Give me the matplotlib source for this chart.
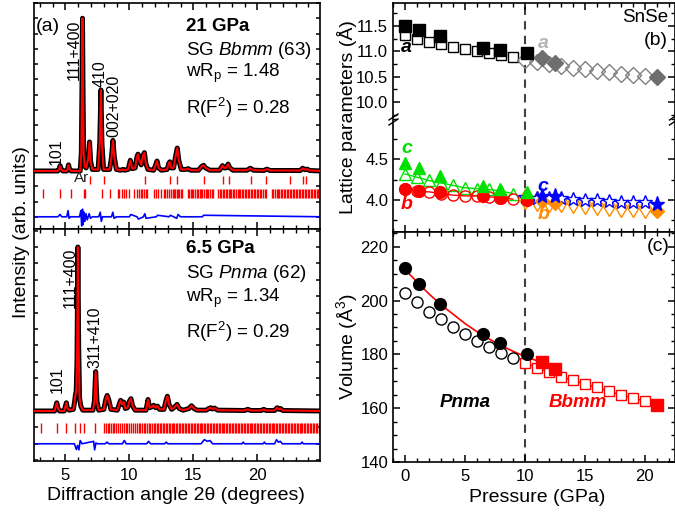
import matplotlib
matplotlib.use("Agg")
import matplotlib.pyplot as plt
from matplotlib.lines import Line2D
from matplotlib.ticker import MultipleLocator

plt.rcParams["font.family"] = ["Liberation Sans", "DejaVu Sans"]
plt.rcParams["mathtext.fontset"] = "custom"
plt.rcParams["mathtext.rm"] = "Liberation Sans"
plt.rcParams["mathtext.it"] = "Liberation Sans:italic"
plt.rcParams["mathtext.bf"] = "Liberation Sans:bold"
plt.rcParams["axes.linewidth"] = 1.2

# ── (a) diffraction patterns: profile vertices ──
TOP_TTH = [2.5, 4.4, 4.5, 4.58, 4.68, 4.8, 5.1, 5.17, 5.24, 5.32, 5.45, 6.15, 6.24, 6.29,
           6.33, 6.37, 6.42, 6.5, 6.62, 6.78, 6.88, 6.97, 7.1, 7.55, 7.68, 7.77, 7.85,
           7.98, 8.45, 8.6, 8.71, 8.82, 8.98, 9.3, 9.5, 9.6, 9.9, 10.07, 10.22, 10.45,
           10.58, 10.67, 10.78, 10.92, 11.05, 11.17, 11.28, 11.45, 11.9, 12.05, 12.16,
           12.28, 12.5, 12.95, 13.08, 13.16, 13.28, 13.45, 13.62, 13.74, 13.86, 14.05,
           14.4, 14.6, 14.8, 15.4, 15.65, 15.8, 15.95, 16.3, 17.05, 17.2, 17.28, 17.4,
           17.55, 17.72, 17.85, 18.1, 19.2, 19.45, 19.7, 20.5, 20.75, 21.0, 23.35, 23.55,
           23.75, 23.9, 24.1, 25.0]
TOP_INT = [0, 0, 1, 3.5, 1, 0, 0, 1.5, 4, 1, 0, 0, 12, 55,
           100, 55, 12, 3, 2, 8, 19, 6, 1, 1, 18, 53, 18,
           1, 1, 9, 20, 9, 1, 0.5, 1, 0.5, 1, 7, 1.5, 2,
           9, 11, 7, 4, 10, 12, 5, 1, 0.5, 4, 6.5,
           2, 0.5, 1, 5, 6, 2, 2, 10, 15, 7, 1,
           1, 1.5, 0.5, 0.5, 3, 3.7, 2, 0.5, 0.5, 2.5, 3.5, 2,
           2, 4.5, 2, 0.5, 0.5, 1.8, 0.5, 0.3, 1.2, 0.3, 0.3, 1.8,
           0.8, 1.2, 0.3, 0]

BOT_TTH = [2.5, 4.15, 4.25, 4.32, 4.42, 4.55, 4.9, 5.0, 5.07, 5.15, 5.3, 5.62, 5.72, 5.78,
           5.84, 5.9, 5.97, 6.03, 6.1, 6.2, 6.35, 7.15, 7.26, 7.36, 7.46, 7.6, 8.0, 8.15,
           8.26, 8.38, 8.55, 9.05, 9.2, 9.31, 9.42, 9.55, 9.68, 9.85, 10.0, 10.12, 10.25,
           10.45, 11.3, 11.45, 11.58, 11.75, 11.9, 12.05, 12.2, 12.35, 12.7, 12.85, 12.97,
           13.1, 13.3, 13.55, 13.72, 13.9, 14.2, 14.65, 14.85, 15.05, 15.3, 16.0, 16.2,
           16.37, 16.5, 16.65, 16.9, 19.0, 19.25, 19.5, 20.3, 20.5, 20.7, 21.35, 21.55,
           21.7, 21.82, 22.0, 25.0]
BOT_INT = [0, 0, 3, 5, 1.5, 0, 0, 3, 5, 1.5, 0.5, 1, 6, 10,
           12, 30, 100, 40, 8, 3, 0.5, 0.5, 6, 24, 6, 0.5, 1, 7,
           9.5, 7, 1, 0.5, 4, 6.5, 4, 5.5, 1.5, 2, 6, 7.5, 3,
           0.5, 0.5, 7, 2, 2.5, 3.5, 2, 3, 1, 1, 6, 9,
           4, 1, 2.5, 4, 1.5, 0.5, 1.5, 3.2, 1.5, 0.5, 0.5, 1.5,
           2, 1.2, 1.8, 0.5, 0.3, 1, 0.3, 0.3, 1, 0.3, 0.3, 2,
           1, 1.5, 0.3, 0]

TOP_DIFF_TTH = [2.5, 4.4, 4.58, 4.7, 5.1, 5.2, 5.28, 5.4, 6.1, 6.2, 6.27, 6.33, 6.38, 6.45,
                6.52, 6.6, 6.7, 6.85, 6.95, 7.1, 7.6, 7.72, 7.8, 7.9, 8.6, 8.7, 8.8, 9.0,
                10.0, 10.1, 10.6, 10.7, 11.1, 11.2, 11.3, 12.1, 12.2, 13.1, 13.2, 13.7,
                13.8, 14.0, 15.7, 15.8, 25.0]
TOP_DIFF = [0, 0, 1.5, 0, 0, 4, -1, 0, 0, 4, -6, 5, -5, 3,
            -3, 2, -2, 2, -1, 0, 0, 3, -3, 0, 0, 3, -1, 0,
            0, 1.5, 0, -1.5, 0, 2, -1, 0, 1, 0, 1, -1,
            1.5, 0, 0, 1, 0]

BOT_DIFF_TTH = [2.5, 5.7, 5.85, 5.95, 6.05, 6.15, 6.3, 7.2, 7.28, 7.38, 7.5, 8.1, 8.25, 8.4,
                9.45, 9.6, 9.75, 11.35, 11.5, 11.65, 12.75, 12.88, 13.0, 15.6, 15.85, 16.1,
                16.3, 16.5, 18.8, 18.9, 19.0, 20.45, 20.55, 20.65, 21.35, 21.5, 21.65, 21.8,
                21.95, 23.4, 23.5, 23.6, 25.0]
BOT_DIFF = [0, 0, -3.5, -1, -3.7, 2, 0, 1.5, -3.7, 0.5, 0, 0, 1, 0,
            0, 2, 0, 0, 1.5, 0, 0, 1, 0, 0, 2.5, 1.5,
            2, 0, 0, 1, 0, 0, 1, 0, 0, 2.5, 1, 1.5,
            0, 0, 1, 0, 0]

AR_TICKS = [6.88, 7.98, 11.2, 13.2, 13.75, 15.84, 17.33, 17.76, 19.5, 20.7, 22.55, 23.57, 23.83]
BBMM_TICKS = [3.25, 4.58, 5.43, 6.41, 6.52, 7.82, 8.51, 9.08, 9.2, 9.42, 9.55, 9.7, 9.95,
              10.34, 10.6, 10.73, 10.88, 11.02, 11.15, 11.28, 11.4, 11.9, 12.04, 12.2, 12.48,
              12.68, 12.8, 12.95, 13.1, 13.22, 13.37, 13.5, 13.6, 13.7, 13.8, 13.9, 14.0,
              14.12, 14.55, 14.65, 14.78, 14.9, 15.0, 15.12, 15.25, 15.35, 15.48, 15.6, 15.7,
              15.82, 15.95, 16.05, 16.18, 16.3, 16.42, 16.52, 16.95, 17.05, 17.18, 17.3, 17.4,
              17.52, 17.62, 17.75, 17.85, 17.98, 18.1, 18.2, 18.32, 18.45, 18.55, 18.68, 18.8,
              18.9, 19.02, 19.15, 19.25, 19.38, 19.5, 19.6, 19.72, 19.85, 19.95, 20.08, 20.2,
              20.32, 20.45, 20.58, 20.7, 21.15, 21.25, 21.38, 21.5, 21.6, 21.72, 21.85, 21.95,
              22.08, 22.2, 22.3, 22.42, 22.55, 22.65, 22.78, 22.9, 23.0, 23.12, 23.25, 23.35,
              23.48, 23.6, 23.7, 23.82, 23.95, 24.05, 24.18, 24.3, 24.4, 24.52, 24.65, 24.75,
              24.88, 25.0]
PNMA_TICKS = [3.1, 4.32, 5.05, 5.76, 6.1, 6.47, 7.33, 8.04, 8.15, 8.3, 8.42, 8.55, 8.7, 8.82,
              8.95, 9.1, 9.3, 9.45, 9.55, 9.7, 9.82, 9.95, 10.1, 10.3, 10.45, 10.6, 10.72,
              10.85, 11.0, 11.12, 11.25, 11.38, 11.5, 11.62, 11.75, 11.9, 12.0, 12.12, 12.25,
              12.38, 12.5, 12.6, 12.72, 12.83, 12.95, 13.06, 13.18, 13.3, 13.41, 13.52, 13.64,
              13.75, 13.87, 13.98, 14.1, 14.21, 14.33, 14.44, 14.56, 14.67, 14.79, 14.9, 15.02,
              15.13, 15.25, 15.36, 15.48, 15.59, 15.71, 15.82, 15.94, 16.05, 16.17, 16.28, 16.4,
              16.51, 16.63, 16.74, 16.86, 16.97, 17.09, 17.2, 17.32, 17.43, 17.55, 17.66, 17.78,
              17.89, 18.01, 18.12, 18.24, 18.35, 18.47, 18.58, 18.7, 18.81, 18.93, 19.04, 19.16,
              19.27, 19.39, 19.5, 19.62, 19.73, 19.85, 19.96, 20.08, 20.19, 20.31, 20.42, 20.54,
              20.65, 20.77, 20.88, 21.0, 21.11, 21.23, 21.34, 21.46, 21.57, 21.69, 21.8, 21.92,
              22.03, 22.15, 22.26, 22.38, 22.49, 22.61, 22.72, 22.84, 22.95, 23.07, 23.18, 23.3,
              23.41, 23.53, 23.64, 23.76, 23.87, 23.99, 24.1, 24.22, 24.33, 24.45, 24.56, 24.68,
              24.79, 24.91]

# ── (b), (c) lattice parameters and volume vs pressure ──
P_EXP = [0, 1.2, 2.9, 6.5, 7.9, 10.2]
A_EXP = [11.50, 11.42, 11.31, 11.07, 11.03, 10.96]
B_EXP = [4.13, 4.11, 4.10, 4.05, 4.03, 4.00]
C_EXP = [4.45, 4.39, 4.29, 4.17, 4.14, 4.10]
V_EXP = [212.1, 206.3, 198.8, 187.7, 184.3, 180.0]

P_PNMA = [0, 1, 2, 3, 4, 5, 6, 7, 8, 9]
A_PNMA = [11.33, 11.24, 11.19, 11.14, 11.09, 11.05, 11.01, 10.96, 10.93, 10.88]
B_PNMA = [4.13, 4.11, 4.10, 4.08, 4.06, 4.05, 4.05, 4.04, 4.03, 4.01]
C_PNMA = [4.32, 4.28, 4.24, 4.21, 4.18, 4.15, 4.14, 4.13, 4.11, 4.08]
V_PNMA = [202.8, 199.4, 195.9, 193.0, 190.1, 187.4, 184.9, 182.7, 180.6, 178.8]

P_BBMM = [10, 11, 12, 13, 14, 15, 16, 17, 18, 19, 20]
A_BBMM = [10.83, 10.80, 10.75, 10.71, 10.68, 10.65, 10.62, 10.59, 10.56, 10.53, 10.51]
B_BBMM = [4.01, 3.99, 3.98, 3.97, 3.96, 3.95, 3.94, 3.93, 3.92, 3.91, 3.90]
C_BBMM = [4.04, 4.03, 4.03, 4.02, 4.01, 4.00, 4.00, 3.99, 3.98, 3.98, 3.97]
V_BBMM = [176.9, 175.1, 173.5, 171.7, 170.4, 169.0, 167.7, 166.4, 164.9, 163.8, 162.7]

P_BBMM_EXP = [11.4, 12.5, 21.0]
A_BBMM_EXP = [10.86, 10.78, 10.50]
B_BBMM_EXP = [3.99, 3.96, 3.86]
C_BBMM_EXP = [4.05, 4.05, 3.95]
V_BBMM_EXP = [177.2, 174.7, 161.1]

P_FIT = [0, 1, 2, 3, 4, 5, 6, 7, 8, 9, 10, 11.4]
V_FIT = [211.5, 207.0, 202.5, 198.5, 195.0, 191.5, 188.5, 185.8, 183.3, 181.2, 179.3, 177.0]

W, H = 675, 515


def px_axes(fig, left, top, right, bottom):
    return fig.add_axes([left / W, 1 - bottom / H, (right - left) / W, (bottom - top) / H])


def style_ticks(ax):
    ax.tick_params(which="both", direction="in", top=True, right=True, labelsize=12)
    ax.tick_params(which="major", length=5, width=1.1)
    ax.tick_params(which="minor", length=3, width=1.0)


fig = plt.figure(figsize=(W / 100, H / 100), dpi=100)

# ── panel (a) ──
ax_top = px_axes(fig, 33.5, 3, 320, 229)
ax_bot = px_axes(fig, 33.5, 229, 320, 461)

for ax, tth, inten, dtth, diff, doff in [
        (ax_top, TOP_TTH, TOP_INT, TOP_DIFF_TTH, TOP_DIFF, -30),
        (ax_bot, BOT_TTH, BOT_INT, BOT_DIFF_TTH, BOT_DIFF, -20)]:
    ax.plot(tth, inten, "-", color="black", lw=3.6, solid_joinstyle="round", zorder=2)
    ax.plot(tth, inten, "-", color="red", lw=1.5, zorder=3)
    ax.plot(dtth, [d + doff for d in diff], "-", color="#0000ff", lw=1.2)
    ax.set_xlim(2.5, 24.9)
    ax.xaxis.set_major_locator(MultipleLocator(5))
    ax.xaxis.set_minor_locator(MultipleLocator(1))
    ax.yaxis.set_major_locator(MultipleLocator(10))
    style_ticks(ax)
    ax.tick_params(axis="y", which="major", length=3)
    ax.tick_params(labelleft=False)

ax_top.set_ylim(-38, 110)
ax_bot.set_ylim(-30.5, 111)
ax_top.tick_params(labelbottom=False)
ax_bot.tick_params(axis="x", pad=5)

ax_top.vlines(AR_TICKS, -8.5, -3.3, color="red", lw=1.0)
ax_top.vlines(BBMM_TICKS, -17.6, -11.8, color="red", lw=1.0)
ax_bot.vlines(PNMA_TICKS, -13.4, -7.3, color="red", lw=1.0)

ax_top.text(6.23, -4.6, "Ar", fontsize=11, ha="center", va="center", color="#222222")

lab_kw = dict(rotation=90, ha="center", va="bottom", fontsize=11.5)
ax_top.text(4.27, 4, "101", **lab_kw)
ax_top.text(5.68, 59.5, "111+400", **lab_kw)
ax_top.text(7.72, 55, "410", **lab_kw)
ax_top.text(8.75, 22, "002+020", **lab_kw)
ax_bot.text(4.35, 11, "101", **lab_kw)
ax_bot.text(5.37, 63, "111+400", **lab_kw)
ax_bot.text(7.33, 26, "311+410", **lab_kw)

ax_top.text(0.009, 0.894, "(a)", transform=ax_top.transAxes, fontsize=14, va="center")
info_kw = dict(fontsize=13.5, ha="left", va="center")
ax_top.text(0.532, 0.894, "21 GPa", transform=ax_top.transAxes, fontweight="bold", **info_kw)
ax_top.text(0.532, 0.792, r"SG $\it{Bbmm}$ (63)", transform=ax_top.transAxes, **info_kw)
ax_top.text(0.532, 0.69, r"wR$_\mathrm{p}$ = 1.48", transform=ax_top.transAxes, **info_kw)
ax_top.text(0.532, 0.535, r"R(F$^2$) = 0.28", transform=ax_top.transAxes, **info_kw)
ax_bot.text(0.532, 0.918, "6.5 GPa", transform=ax_bot.transAxes, fontweight="bold", **info_kw)
ax_bot.text(0.532, 0.81, r"SG $\it{Pnma}$ (62)", transform=ax_bot.transAxes, **info_kw)
ax_bot.text(0.532, 0.70, r"wR$_\mathrm{p}$ = 1.34", transform=ax_bot.transAxes, **info_kw)
ax_bot.text(0.532, 0.556, r"R(F$^2$) = 0.29", transform=ax_bot.transAxes, **info_kw)

# ── panel (b): broken axis ──
ax_bu = px_axes(fig, 393, 3, 674.5, 117)
ax_bl = px_axes(fig, 393, 117, 674.5, 232)
ax_c = px_axes(fig, 393, 232, 674.5, 462)

for ax in (ax_bu, ax_bl, ax_c):
    ax.set_xlim(-1, 22.5)
    ax.xaxis.set_major_locator(MultipleLocator(5))
    ax.xaxis.set_minor_locator(MultipleLocator(1))
    style_ticks(ax)
    ax.axvline(10, color="#404040", lw=1.5, ls=(0, (4, 3)), zorder=1)

ax_bu.spines["bottom"].set_visible(False)
ax_bl.spines["top"].set_visible(False)
ax_bu.tick_params(axis="x", which="both", bottom=False, labelbottom=False)
ax_bl.tick_params(axis="x", which="both", top=False, labelbottom=False)
ax_bu.set_ylim(9.705, 11.955)
ax_bu.yaxis.set_major_locator(MultipleLocator(0.5))
ax_bu.yaxis.set_minor_locator(MultipleLocator(0.25))
ax_bu.yaxis.set_major_formatter("{x:.1f}")
ax_bl.set_ylim(3.607, 5.02)
ax_bl.yaxis.set_major_locator(MultipleLocator(0.5))
ax_bl.yaxis.set_minor_locator(MultipleLocator(0.25))
ax_bl.yaxis.set_major_formatter("{x:.1f}")
ax_bl.set_yticks([4.0, 4.5])

# a
ax_bu.plot(P_PNMA, A_PNMA, "s", ms=7.5, mec="black", mfc="white", mew=1.0, ls="none")
ax_bu.plot(P_BBMM, A_BBMM, "D", ms=8.5, mec="#808080", mfc="none", mew=1.0, ls="none")
ax_bu.plot(P_EXP, A_EXP, "s", ms=8, color="black")
ax_bu.plot(P_BBMM_EXP, A_BBMM_EXP, "D", ms=8, color="#6e6e6e")
# c
ax_bl.plot(P_PNMA, C_PNMA, "-", color="#00e000", lw=1.0)
ax_bl.plot(P_PNMA, C_PNMA, "^", ms=8.5, mec="#00e000", mfc="none", mew=1.0, ls="none")
# b
ax_bl.plot(P_PNMA, B_PNMA, "-", color="red", lw=1.0)
ax_bl.plot(P_PNMA, B_PNMA, "o", ms=8, mec="red", mfc="none", mew=1.0, ls="none")
ax_bl.plot(P_BBMM, B_BBMM, "-", color="#ff8c00", lw=1.0)
ax_bl.plot(P_BBMM, B_BBMM, "d", ms=10.5, mec="#ff8c00", mfc="white", mew=1.0, ls="none")
ax_bl.plot(P_BBMM, C_BBMM, "-", color="#0000ff", lw=1.0)
ax_bl.plot(P_BBMM, C_BBMM, "*", ms=10.5, mec="#0000ff", mfc="white", mew=1.0, ls="none")
ax_bl.plot(P_EXP, B_EXP, "o", ms=8.5, color="red")
ax_bl.plot(P_EXP, C_EXP, "^", ms=9, color="#00e000")
ax_bl.plot(P_BBMM_EXP, B_BBMM_EXP, "D", ms=7.5, color="#ff8c00")
ax_bl.plot(P_BBMM_EXP, C_BBMM_EXP, "*", ms=11, color="#0000ff")

lbl_kw = dict(fontsize=14, fontweight="bold", fontstyle="italic", ha="center", va="center")
ax_bu.text(0.15, 11.07, "a", color="black", **lbl_kw)
ax_bu.text(11.55, 11.15, "a", color="#b4b4b4", **lbl_kw)
ax_bl.text(0.15, 4.63, "c", color="#00e000", **lbl_kw)
ax_bl.text(0.15, 3.95, "b", color="red", **lbl_kw)
ax_bl.text(11.55, 4.17, "c", color="#0000ff", **lbl_kw)
ax_bl.text(11.6, 3.82, "b", color="#ff8c00", **lbl_kw)
ax_bu.text(0.977, 0.877, "SnSe", transform=ax_bu.transAxes, fontsize=13.5, ha="right", va="center")
ax_bu.text(0.977, 0.675, "(b)", transform=ax_bu.transAxes, fontsize=14, ha="right", va="center")

# break marks
for x0 in (389, 669.5):
    for dy in (0, 5):
        fig.add_artist(Line2D([x0 / W, (x0 + 9) / W],
                              [1 - (120 + dy) / H, 1 - (114 + dy) / H],
                              color="black", lw=1.0, transform=fig.transFigure))

# ── panel (c) ──
ax_c.set_ylim(140, 225.5)
ax_c.yaxis.set_major_locator(MultipleLocator(20))
ax_c.yaxis.set_minor_locator(MultipleLocator(5))
ax_c.tick_params(axis="x", pad=5)
ax_c.plot(P_FIT, V_FIT, "-", color="red", lw=1.2)
ax_c.plot(P_BBMM, V_BBMM, "-", color="red", lw=1.0)
ax_c.plot(P_PNMA, V_PNMA, "o", ms=8, mec="black", mfc="none", mew=1.0, ls="none")
ax_c.plot(P_BBMM, V_BBMM, "s", ms=7.5, mec="red", mfc="white", mew=1.0, ls="none")
ax_c.plot(P_EXP, V_EXP, "o", ms=8.5, color="black")
ax_c.plot(P_BBMM_EXP, V_BBMM_EXP, "s", ms=8, color="red")
ax_c.text(5.0, 162.2, "Pnma", fontsize=13.5, fontweight="bold", fontstyle="italic",
          ha="center", va="center", color="black")
ax_c.text(14.4, 162.2, "Bbmm", fontsize=13.5, fontweight="bold", fontstyle="italic",
          ha="center", va="center", color="red")
ax_c.text(0.984, 0.939, "(c)", transform=ax_c.transAxes, fontsize=14, ha="right", va="center")

# ── axis titles ──
fig.text(22 / W, 1 - 232 / H, "Intensity (arb. units)", rotation=90, ha="center", va="center", fontsize=14)
fig.text(176 / W, 1 - 495 / H, "Diffraction angle 2θ (degrees)", ha="center", va="center", fontsize=14)
fig.text(347 / W, 1 - 117 / H, "Lattice parameters (Å)", rotation=90, ha="center", va="center", fontsize=14)
fig.text(347 / W, 1 - 347 / H, r"Volume (Å$^3$)", rotation=90, ha="center", va="center", fontsize=14)
fig.text(537 / W, 1 - 497 / H, "Pressure (GPa)", ha="center", va="center", fontsize=14)

fig.savefig("out.png", dpi=100)
